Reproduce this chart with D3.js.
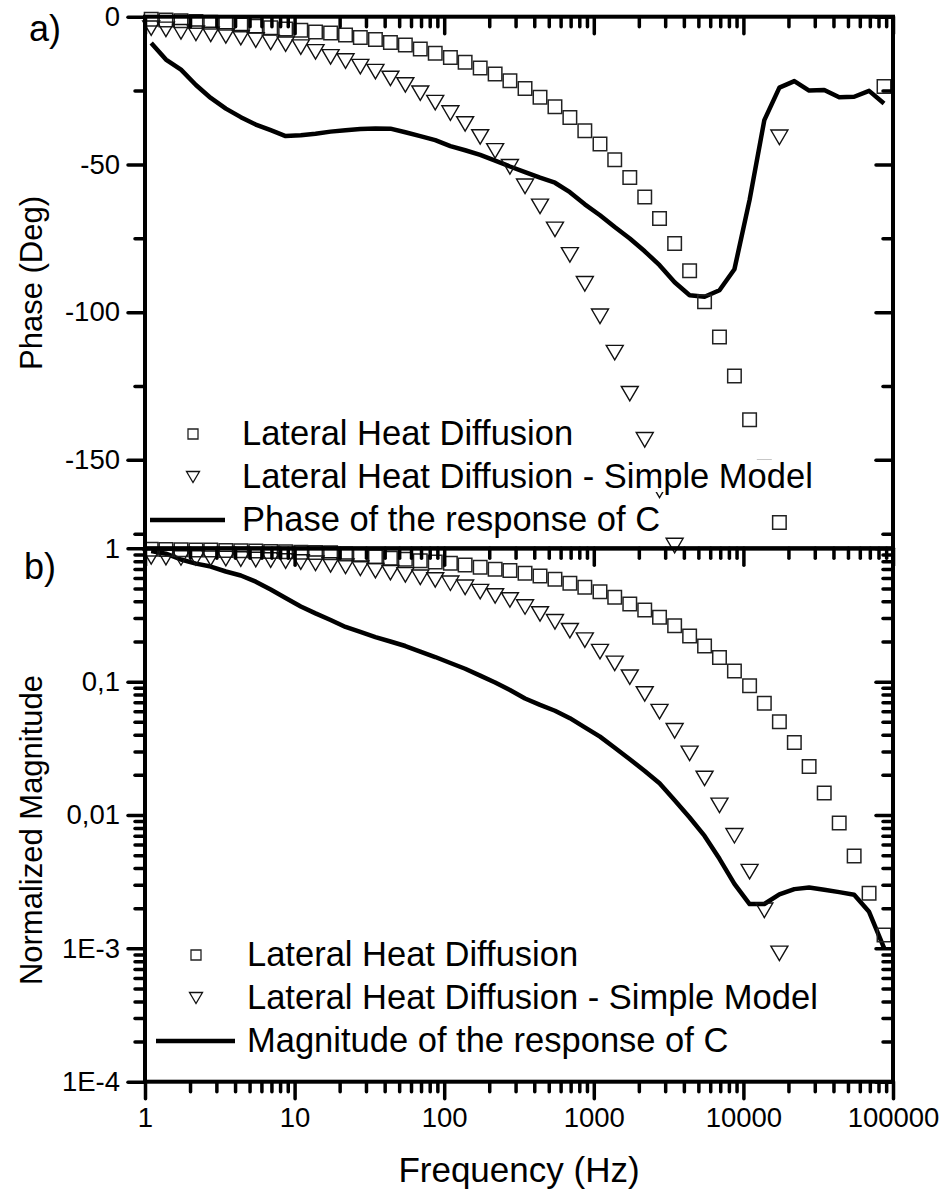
<!DOCTYPE html>
<html>
<head>
<meta charset="utf-8" />
<script src="https://d3js.org/d3.v7.min.js"></script>
<style>
  body { margin: 0; background: #fff; }
  text { font-family: "Liberation Sans", Arial, sans-serif; fill: #000; }
  .axis path.domain { display: none; }
  .axis line { stroke: #000; stroke-width: 3.5; stroke-linecap: round; }
  .frame { fill: none; stroke: #000; stroke-width: 4; }
</style>
</head>
<body>
<svg id="chart" width="941" height="1191"></svg>
<script>
// frequencies of the computed points (Hz)
const freqs = [1.10, 1.38, 1.74, 2.19, 2.75, 3.47, 4.37, 5.50, 6.92, 8.71,
  11.0, 13.8, 17.4, 21.9, 27.5, 34.7, 43.7, 55.0, 69.2, 87.1,
  110, 138, 174, 219, 275, 347, 437, 550, 692, 871,
  1100, 1380, 1740, 2190, 2750, 3470, 4370, 5500, 6920, 8710,
  11000, 13800, 17400, 21900, 27500, 34700, 43700, 55000, 69200, 87100];

// a) phase (deg), null = outside the plotted range
const phaseSquares = [-0.9, -1.1, -1.4, -1.6, -1.9, -2.2, -2.8, -3.2, -3.7, -4.2,
  -4.6, -5.2, -5.5, -6.2, -7.0, -7.7, -8.7, -9.6, -10.9, -12.4,
  -13.8, -15.4, -17.4, -19.4, -21.7, -24.3, -27.3, -30.5, -34.1, -38.6,
  -43.1, -48.4, -54.4, -61.0, -68.3, -76.8, -86.0, -96.5, -108.4, -121.6,
  -136.4, -152.5, -171.2, null, null, null, null, null, null, -23.6];
const phaseTriangles = [-3.9, -4.3, -5.1, -5.6, -6.0, -6.5, -7.1, -7.9, -8.7, -9.3,
  -10.3, -11.9, -13.6, -15.0, -16.9, -18.6, -20.9, -23.1, -25.9, -29.1,
  -32.6, -36.3, -40.7, -45.4, -50.8, -57.4, -64.2, -72.0, -80.6, -90.4,
  -101.4, -113.7, -127.6, -143.2, -160.3, -179.0, null, null, null, null,
  null, null, -40.8, null, null, null, null, null, null, null];
const phaseLine = [-8.9, -14.5, -17.9, -23.1, -27.5, -31.1, -34.0, -36.5, -38.4, -40.4,
  -40.1, -39.6, -38.9, -38.4, -38.0, -37.8, -37.9, -39.1, -40.4, -41.8,
  -43.8, -45.2, -46.8, -48.7, -50.7, -52.6, -54.5, -56.2, -59.4, -63.5,
  -67.2, -71.2, -75.1, -79.4, -84.1, -89.9, -94.3, -94.8, -92.6, -85.5,
  -62.0, -35.0, -24.0, -21.8, -25.0, -24.8, -27.3, -27.1, -25.1, -29.4];

// b) normalized magnitude
const magSquares = [0.983, 0.979, 0.976, 0.973, 0.969, 0.964, 0.959, 0.954, 0.948, 0.941,
  0.935, 0.930, 0.927, 0.906, 0.891, 0.865, 0.841, 0.827, 0.807, 0.789,
  0.772, 0.750, 0.720, 0.696, 0.682, 0.650, 0.620, 0.586, 0.547, 0.510,
  0.473, 0.429, 0.382, 0.345, 0.304, 0.262, 0.220, 0.185, 0.152, 0.120,
  0.0930, 0.0688, 0.0501, 0.0349, 0.0231, 0.0146, 0.00872, 0.00492, 0.00259, 0.00126];
const magTriangles = [0.861, 0.853, 0.846, 0.846, 0.841, 0.836, 0.831, 0.824, 0.817, 0.803,
  0.789, 0.772, 0.750, 0.733, 0.708, 0.679, 0.656, 0.632, 0.606, 0.579,
  0.547, 0.510, 0.473, 0.439, 0.410, 0.363, 0.322, 0.281, 0.241, 0.205,
  0.168, 0.137, 0.108, 0.0809, 0.0596, 0.0428, 0.0290, 0.0188, 0.0118, 0.00699,
  0.00376, 0.00193, 0.000917, null, null, null, null, null, null, null];
const magLine = [0.954, 0.911, 0.824, 0.767, 0.730, 0.670, 0.625, 0.562, 0.491, 0.424,
  0.366, 0.325, 0.290, 0.257, 0.236, 0.216, 0.200, 0.185, 0.168, 0.153,
  0.138, 0.125, 0.111, 0.0986, 0.0866, 0.0748, 0.0669, 0.0605, 0.0532, 0.0454,
  0.0387, 0.0319, 0.0262, 0.0214, 0.0173, 0.0129, 0.00958, 0.00697, 0.00469, 0.00304,
  0.00215, 0.00215, 0.00254, 0.00278, 0.00286, 0.00275, 0.00264, 0.00252, 0.00188, 0.00101];

// ticks
const freqTicks = [1, 10, 100, 1000, 10000, 100000];
const freqLabels = ["1", "10", "100", "1000", "10000", "100000"];
const phaseTicks = [0, -50, -100, -150];
const phaseLabels = ["0", "-50", "-100", "-150"];
const phaseMinor = [-25, -75, -125, -175];
const magTicks = [1, 0.1, 0.01, 0.001, 0.0001];
const magLabels = ["1", "0,1", "0,01", "1E-3", "1E-4"];

const legendTop = ["Lateral Heat Diffusion", "Lateral Heat Diffusion - Simple Model", "Phase of the response of C"];
const legendBottom = ["Lateral Heat Diffusion", "Lateral Heat Diffusion - Simple Model", "Magnitude of the response of C"];

const svg = d3.select("#chart");
const left = 145, right = 893;
const x = d3.scaleLog().domain([1, 1e5]).range([left, right]);
const yP = d3.scaleLinear().domain([-180, 0]).range([548.5, 16.7]);
const yM = d3.scaleLog().domain([1e-4, 1]).range([1081.7, 548.3]);

function minorLog(lo, hi) {
  const out = [];
  for (let e = lo; e < hi; e++)
    for (let m = 2; m <= 9; m++) out.push(m * Math.pow(10, e));
  return out;
}
const freqMinor = minorLog(0, 5);
const magMinor = minorLog(-4, 0);

const sqPath = s => `M${-s / 2},${-s / 2}h${s}v${s}h${-s}Z`;
const triPath = (w, h) => `M${-w / 2},${-h / 2}L${w / 2},${-h / 2}L0,${h / 2}Z`;

function drawPanel(yScale, squares, triangles, lineVals) {
  const g = svg.append("g");
  const line = d3.line()
    .defined(d => d[1] != null)
    .x(d => x(d[0]))
    .y(d => yScale(d[1]));
  g.append("path")
    .datum(freqs.map((f, i) => [f, lineVals[i]]))
    .attr("d", line)
    .attr("fill", "none")
    .attr("stroke", "#000")
    .attr("stroke-width", 4.5)
    .attr("stroke-linejoin", "round");
  g.selectAll("path.sq")
    .data(freqs.map((f, i) => [f, squares[i]]).filter(d => d[1] != null))
    .join("path")
    .attr("class", "sq")
    .attr("d", sqPath(13.5))
    .attr("transform", d => `translate(${x(d[0])},${yScale(d[1])})`)
    .attr("fill", "none")
    .attr("stroke", "#222")
    .attr("stroke-width", 1.5);
  g.selectAll("path.tri")
    .data(freqs.map((f, i) => [f, triangles[i]]).filter(d => d[1] != null))
    .join("path")
    .attr("class", "tri")
    .attr("d", triPath(17, 14.5))
    .attr("transform", d => `translate(${x(d[0])},${yScale(d[1])})`)
    .attr("fill", "none")
    .attr("stroke", "#111")
    .attr("stroke-width", 1.4);
}

drawPanel(yP, phaseSquares, phaseTriangles, phaseLine);
drawPanel(yM, magSquares, magTriangles, magLine);

// legends (each text line has a white box behind it)
function drawLegend(texts, rows, sx, tx, lineX) {
  const g = svg.append("g");
  texts.forEach((t, i) => {
    const txt = g.append("text")
      .attr("x", tx).attr("y", rows[i])
      .attr("font-size", 34.5)
      .text(t);
    const b = txt.node().getBBox();
    g.insert("rect", "text")
      .attr("x", b.x - 2).attr("y", b.y + 3)
      .attr("width", b.width + 4).attr("height", b.height - 6)
      .attr("fill", "#fff");
  });
  const cy = rows.map(r => r - 11);
  g.append("path").attr("d", sqPath(10))
    .attr("transform", `translate(${sx},${cy[0]})`)
    .attr("fill", "none").attr("stroke", "#222").attr("stroke-width", 1.3);
  g.append("path").attr("d", triPath(13, 11))
    .attr("transform", `translate(${sx},${cy[1]})`)
    .attr("fill", "none").attr("stroke", "#111").attr("stroke-width", 1.3);
  g.append("line")
    .attr("x1", lineX[0]).attr("x2", lineX[1])
    .attr("y1", cy[2]).attr("y2", cy[2])
    .attr("stroke", "#000").attr("stroke-width", 4.5);
}
drawLegend(legendTop, [445, 488, 531], 193, 242, [150, 225]);
drawLegend(legendBottom, [966, 1009, 1052], 196, 247, [156, 235]);

// axes
function addAxis(axis, tx, ty) {
  const g = svg.append("g").attr("class", "axis")
    .attr("transform", `translate(${tx},${ty})`)
    .call(axis);
  g.selectAll("text")
    .attr("font-size", 27.5)
    .attr("font-family", '"Liberation Sans", Arial, sans-serif');
  return g;
}
const noLabel = () => "";

// panel a
addAxis(d3.axisLeft(yP).tickValues(phaseTicks).tickSize(17).tickPadding(8)
  .tickFormat((d, i) => phaseLabels[i]), left, 0);
addAxis(d3.axisLeft(yP).tickValues(phaseMinor).tickSize(10).tickFormat(noLabel), left, 0);
addAxis(d3.axisLeft(yP).tickValues(phaseTicks).tickSize(17).tickFormat(noLabel), right, 0);
addAxis(d3.axisLeft(yP).tickValues(phaseMinor).tickSize(10).tickFormat(noLabel), right, 0);
addAxis(d3.axisBottom(x).tickValues(freqTicks).tickSize(17).tickFormat(noLabel), 0, yP(0));
addAxis(d3.axisBottom(x).tickValues(freqMinor).tickSize(10).tickFormat(noLabel), 0, yP(0));

// panel b
addAxis(d3.axisLeft(yM).tickValues(magTicks).tickSize(17).tickPadding(8)
  .tickFormat((d, i) => magLabels[i]), left, 0);
addAxis(d3.axisLeft(yM).tickValues(magMinor).tickSize(10).tickFormat(noLabel), left, 0);
addAxis(d3.axisLeft(yM).tickValues(magTicks).tickSize(17).tickFormat(noLabel), right, 0);
addAxis(d3.axisLeft(yM).tickValues(magMinor).tickSize(10).tickFormat(noLabel), right, 0);
addAxis(d3.axisBottom(x).tickValues(freqTicks).tickSize(17).tickFormat(noLabel), 0, yM(1));
addAxis(d3.axisBottom(x).tickValues(freqMinor).tickSize(10).tickFormat(noLabel), 0, yM(1));
addAxis(d3.axisBottom(x).tickValues(freqTicks).tickSize(17).tickPadding(9)
  .tickFormat((d, i) => freqLabels[i]), 0, yM(1e-4));
addAxis(d3.axisBottom(x).tickValues(freqMinor).tickSize(10).tickFormat(noLabel), 0, yM(1e-4));

// frames
svg.append("rect").attr("class", "frame")
  .attr("x", left).attr("y", yP(0))
  .attr("width", right - left).attr("height", yP(-180) - yP(0));
svg.append("rect").attr("class", "frame")
  .attr("x", left).attr("y", yM(1))
  .attr("width", right - left).attr("height", yM(1e-4) - yM(1));

// titles
svg.append("text")
  .attr("x", 519).attr("y", 1182)
  .attr("text-anchor", "middle").attr("font-size", 35)
  .text("Frequency (Hz)");
svg.append("text")
  .attr("transform", `translate(42,283) rotate(-90)`)
  .attr("text-anchor", "middle").attr("font-size", 31)
  .text("Phase (Deg)");
svg.append("text")
  .attr("transform", `translate(42,830) rotate(-90)`)
  .attr("text-anchor", "middle").attr("font-size", 31)
  .text("Normalized Magnitude");
svg.append("text").attr("x", 29).attr("y", 41).attr("font-size", 36).text("a)");
svg.append("text").attr("x", 24).attr("y", 579).attr("font-size", 36).text("b)");
</script>
</body>
</html>
